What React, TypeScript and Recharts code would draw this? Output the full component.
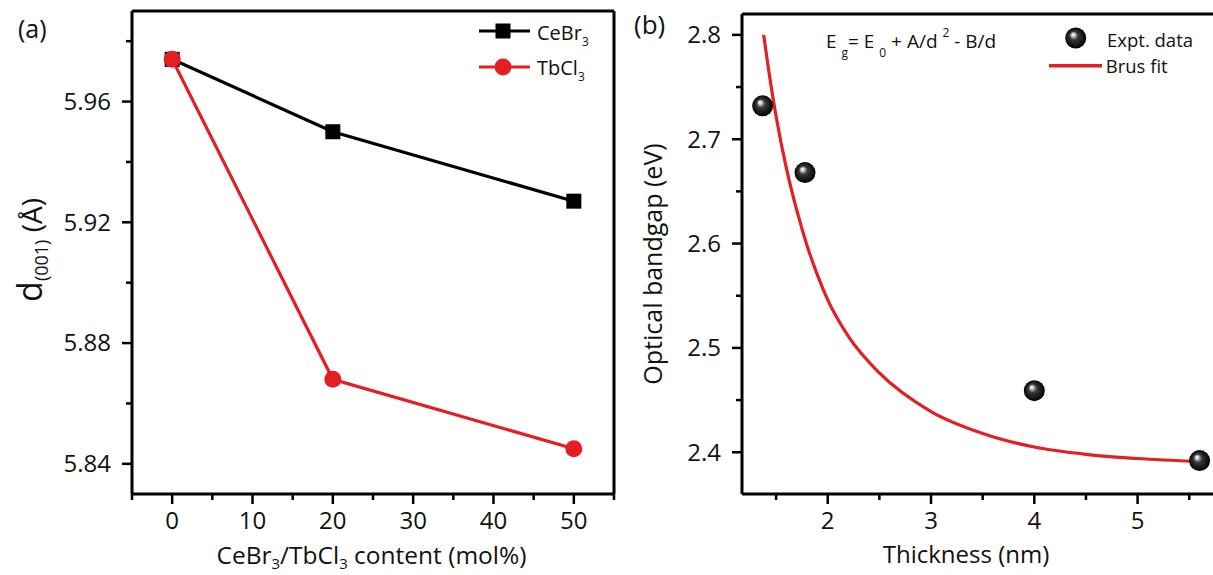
import React from 'react';
import { ComposedChart, Line, Scatter, XAxis, YAxis, ReferenceLine, Legend } from 'recharts';

// ---------- Panel (a) data ----------
const contents = [0, 20, 50];
const cebr3 = [5.974, 5.95, 5.927];
const tbcl3 = [5.974, 5.868, 5.845];
const leftXTicks = [-5, 0, 5, 10, 15, 20, 25, 30, 35, 40, 45, 50, 55];
const leftXMajor = [0, 10, 20, 30, 40, 50];
const leftYTicks = [5.84, 5.86, 5.88, 5.9, 5.92, 5.94, 5.96, 5.98];
const leftYMajor = [5.84, 5.88, 5.92, 5.96];

// ---------- Panel (b) data ----------
const thickness = [1.37, 1.78, 4.0, 5.6];
const bandgap = [2.732, 2.668, 2.459, 2.392];
const fitThickness = [1.38, 1.45, 1.5, 1.6, 1.7, 1.8, 1.9, 2.0, 2.2, 2.5, 3.0, 3.5, 4.0, 4.5, 5.0, 5.6];
const fitBandgap = [2.8, 2.752, 2.722, 2.672, 2.632, 2.598, 2.57, 2.546, 2.511, 2.476, 2.439, 2.418, 2.405, 2.398, 2.394, 2.391];
const rightXTicks = [1.5, 2, 2.5, 3, 3.5, 4, 4.5, 5, 5.5];
const rightXMajor = [2, 3, 4, 5];
const rightYTicks = [2.4, 2.45, 2.5, 2.55, 2.6, 2.65, 2.7, 2.75, 2.8];
const rightYMajor = [2.4, 2.5, 2.6, 2.7, 2.8];

const FONT = "'Open Sans', 'Noto Sans', sans-serif";
const RED = '#e31e24';
const INK = '#111';

const leftData = contents.map((c, i) => ({ x: c, cebr3: cebr3[i], tbcl3: tbcl3[i] }));
const expData = thickness.map((t, i) => ({ x: t, y: bandgap[i] }));
const fitData = fitThickness.map((t, i) => ({ x: t, y: fitBandgap[i] }));

const isIn = (arr: number[], v: number) => arr.some((m) => Math.abs(m - v) < 1e-9);

const makeYTick = (major: number[], digits: number) => (props: any) => {
  const { x, y, payload } = props;
  const v = payload.value;
  const mj = isIn(major, v);
  return (
    <g>
      <line x1={x} y1={y} x2={x - (mj ? 10 : 6)} y2={y} stroke="#000" strokeWidth={2.5} />
      {mj && (
        <text x={x - 21} y={y} dy="0.35em" textAnchor="end" fontSize={24} fontFamily={FONT} fill={INK}>
          {v.toFixed(digits)}
        </text>
      )}
    </g>
  );
};

const makeXTick = (major: number[]) => (props: any) => {
  const { x, y, payload } = props;
  const v = payload.value;
  const mj = isIn(major, v);
  return (
    <g>
      <line x1={x} y1={y} x2={x} y2={y + (mj ? 10 : 6)} stroke="#000" strokeWidth={2.5} />
      {mj && (
        <text x={x} y={y + 35} textAnchor="middle" fontSize={24} fontFamily={FONT} fill={INK}>
          {String(v)}
        </text>
      )}
    </g>
  );
};

const SquareDot = (props: any) => {
  const { cx, cy } = props;
  if (cx == null || cy == null) return null;
  return <rect x={cx - 7.5} y={cy - 7.5} width={15} height={15} fill="#000" />;
};
const CircleDot = (props: any) => {
  const { cx, cy } = props;
  if (cx == null || cy == null) return null;
  return <circle cx={cx} cy={cy} r={8.5} fill={RED} />;
};
const Sphere = (props: any) => {
  const { cx, cy } = props;
  if (cx == null || cy == null) return null;
  return <circle cx={cx} cy={cy} r={10.5} fill="url(#sphereGrad)" />;
};

const SphereGradient = ({ id }: { id: string }) => (
  <radialGradient id={id} cx="0.5" cy="0.5" r="0.5" fx="0.36" fy="0.32">
    <stop offset="0%" stopColor="#ffffff" />
    <stop offset="14%" stopColor="#d8d8d8" />
    <stop offset="40%" stopColor="#3a3a3a" />
    <stop offset="100%" stopColor="#000000" />
  </radialGradient>
);

const LeftLegend = () => (
  <svg width={140} height={72} style={{ display: 'block' }}>
    <line x1={9} y1={17} x2={60} y2={17} stroke="#000" strokeWidth={3} />
    <rect x={25.5} y={9.5} width={15} height={15} fill="#000" />
    <text x={67} y={26} fontSize={20} fontFamily={FONT} fill={INK}>
      CeBr<tspan fontSize={12} dy={6}>3</tspan>
    </text>
    <line x1={9} y1={53} x2={60} y2={53} stroke={RED} strokeWidth={3} />
    <circle cx={33} cy={53} r={8.5} fill={RED} />
    <text x={67} y={61} fontSize={20} fontFamily={FONT} fill={INK}>
      TbCl<tspan fontSize={12} dy={6}>3</tspan>
    </text>
  </svg>
);

const RightLegend = () => (
  <svg width={173} height={66} style={{ display: 'block' }}>
    <defs>
      <SphereGradient id="sphereGradLegend" />
    </defs>
    <circle cx={35.7} cy={20} r={10.5} fill="url(#sphereGradLegend)" />
    <text x={67} y={29} fontSize={18.5} fontFamily={FONT} fill={INK}>
      Expt. data
    </text>
    <line x1={9} y1={47.7} x2={62} y2={47.7} stroke={RED} strokeWidth={3.5} />
    <text x={65.7} y={54.7} fontSize={18.5} fontFamily={FONT} fill={INK}>
      Brus fit
    </text>
  </svg>
);

const leftYLabel = () => (
  <text x={42} y={250} transform="rotate(-90, 42, 250)" textAnchor="middle" fontFamily={FONT} fill={INK}>
    <tspan fontSize={34}>d</tspan>
    <tspan fontSize={18} dy={6}>(001)</tspan>
    <tspan fontSize={28} dy={-6}> (Å)</tspan>
  </text>
);

const leftXLabel = () => (
  <text x={371.5} y={564} textAnchor="middle" fontSize={24.5} fontFamily={FONT} fill={INK}>
    CeBr<tspan fontSize={15} dy={5}>3</tspan>
    <tspan dy={-5}>/TbCl</tspan>
    <tspan fontSize={15} dy={5}>3</tspan>
    <tspan dy={-5}> content (mol%)</tspan>
  </text>
);

const rightYLabel = () => (
  <text x={42} y={264} transform="rotate(-90, 42, 264)" textAnchor="middle" fontSize={25} fontFamily={FONT} fill={INK}>
    Optical bandgap (eV)
  </text>
);

const rightXLabel = () => (
  <text x={346} y={563} textAnchor="middle" fontSize={24} fontFamily={FONT} fill={INK}>
    Thickness (nm)
  </text>
);

export default function App() {
  return (
    <div style={{ position: 'absolute', left: 0, top: 0, width: 1213, height: 575, overflow: 'hidden', background: '#fff' }}>
      <div style={{ position: 'absolute', left: 0, top: 0 }}>
        <ComposedChart width={625} height={575} data={leftData} margin={{ top: 11, right: 11, left: 0, bottom: 0 }}>
          <XAxis
            type="number"
            dataKey="x"
            domain={[-5, 55]}
            allowDataOverflow
            ticks={leftXTicks}
            interval={0}
            height={81}
            tickSize={0}
            tickMargin={0}
            tickLine={false}
            tick={makeXTick(leftXMajor)}
            axisLine={{ stroke: '#000', strokeWidth: 3 }}
            label={leftXLabel}
          />
          <YAxis
            type="number"
            domain={[5.83, 5.99]}
            allowDataOverflow
            ticks={leftYTicks}
            interval={0}
            width={132}
            tickSize={0}
            tickMargin={0}
            tickLine={false}
            tick={makeYTick(leftYMajor, 2)}
            axisLine={{ stroke: '#000', strokeWidth: 3 }}
            label={leftYLabel}
          />
          <ReferenceLine y={5.99} stroke="#000" strokeWidth={3} ifOverflow="visible" />
          <ReferenceLine x={55} stroke="#000" strokeWidth={3} ifOverflow="visible" />
          <Line type="linear" dataKey="cebr3" stroke="#000" strokeWidth={3.2} dot={SquareDot} activeDot={false} isAnimationActive={false} />
          <Line type="linear" dataKey="tbcl3" stroke={RED} strokeWidth={3.2} dot={CircleDot} activeDot={false} isAnimationActive={false} />
          <Legend
            layout="vertical"
            align="center"
            verticalAlign="middle"
            wrapperStyle={{ position: 'absolute', left: 470, top: 14, width: 140, height: 72 }}
            content={() => <LeftLegend />}
          />
        </ComposedChart>
      </div>
      <div style={{ position: 'absolute', left: 620, top: 0 }}>
        <ComposedChart width={593} height={575} margin={{ top: 14, right: 0, left: 0, bottom: 0 }}>
          <defs>
            <SphereGradient id="sphereGrad" />
          </defs>
          <XAxis
            type="number"
            dataKey="x"
            domain={[1.17, 5.73]}
            allowDataOverflow
            ticks={rightXTicks}
            interval={0}
            height={81}
            tickSize={0}
            tickMargin={0}
            tickLine={false}
            tick={makeXTick(rightXMajor)}
            axisLine={{ stroke: '#000', strokeWidth: 3 }}
            label={rightXLabel}
          />
          <YAxis
            type="number"
            dataKey="y"
            domain={[2.36, 2.82]}
            allowDataOverflow
            ticks={rightYTicks}
            interval={0}
            width={122}
            tickSize={0}
            tickMargin={0}
            tickLine={false}
            tick={makeYTick(rightYMajor, 1)}
            axisLine={{ stroke: '#000', strokeWidth: 3 }}
            label={rightYLabel}
          />
          <ReferenceLine y={2.82} stroke="#000" strokeWidth={3} ifOverflow="visible" />
          <Scatter data={expData} dataKey="y" shape={Sphere} isAnimationActive={false} />
          <Line data={fitData} type="monotone" dataKey="y" stroke={RED} strokeWidth={3.2} dot={false} activeDot={false} isAnimationActive={false} />
          <Legend
            layout="vertical"
            align="center"
            verticalAlign="middle"
            wrapperStyle={{ position: 'absolute', left: 420, top: 18, width: 173, height: 66 }}
            content={() => <RightLegend />}
          />
        </ComposedChart>
      </div>
      <svg width={1213} height={575} style={{ position: 'absolute', left: 0, top: 0, pointerEvents: 'none' }}>
        <text x={18} y={38} fontSize={25} fontFamily={FONT} fill={INK}>(a)</text>
        <text x={634} y={34} fontSize={26} fontFamily={FONT} fill={INK}>(b)</text>
        <text x={826} y={48} fontSize={19} fontFamily={FONT} fill={INK}>
          E <tspan fontSize={12} dy={9}>g</tspan>
          <tspan dy={-9}>= E </tspan>
          <tspan fontSize={12} dy={9}>0</tspan>
          <tspan dy={-9}> + A/d </tspan>
          <tspan fontSize={12} dy={-11}>2</tspan>
          <tspan dy={11}> - B/d</tspan>
        </text>
      </svg>
    </div>
  );
}
